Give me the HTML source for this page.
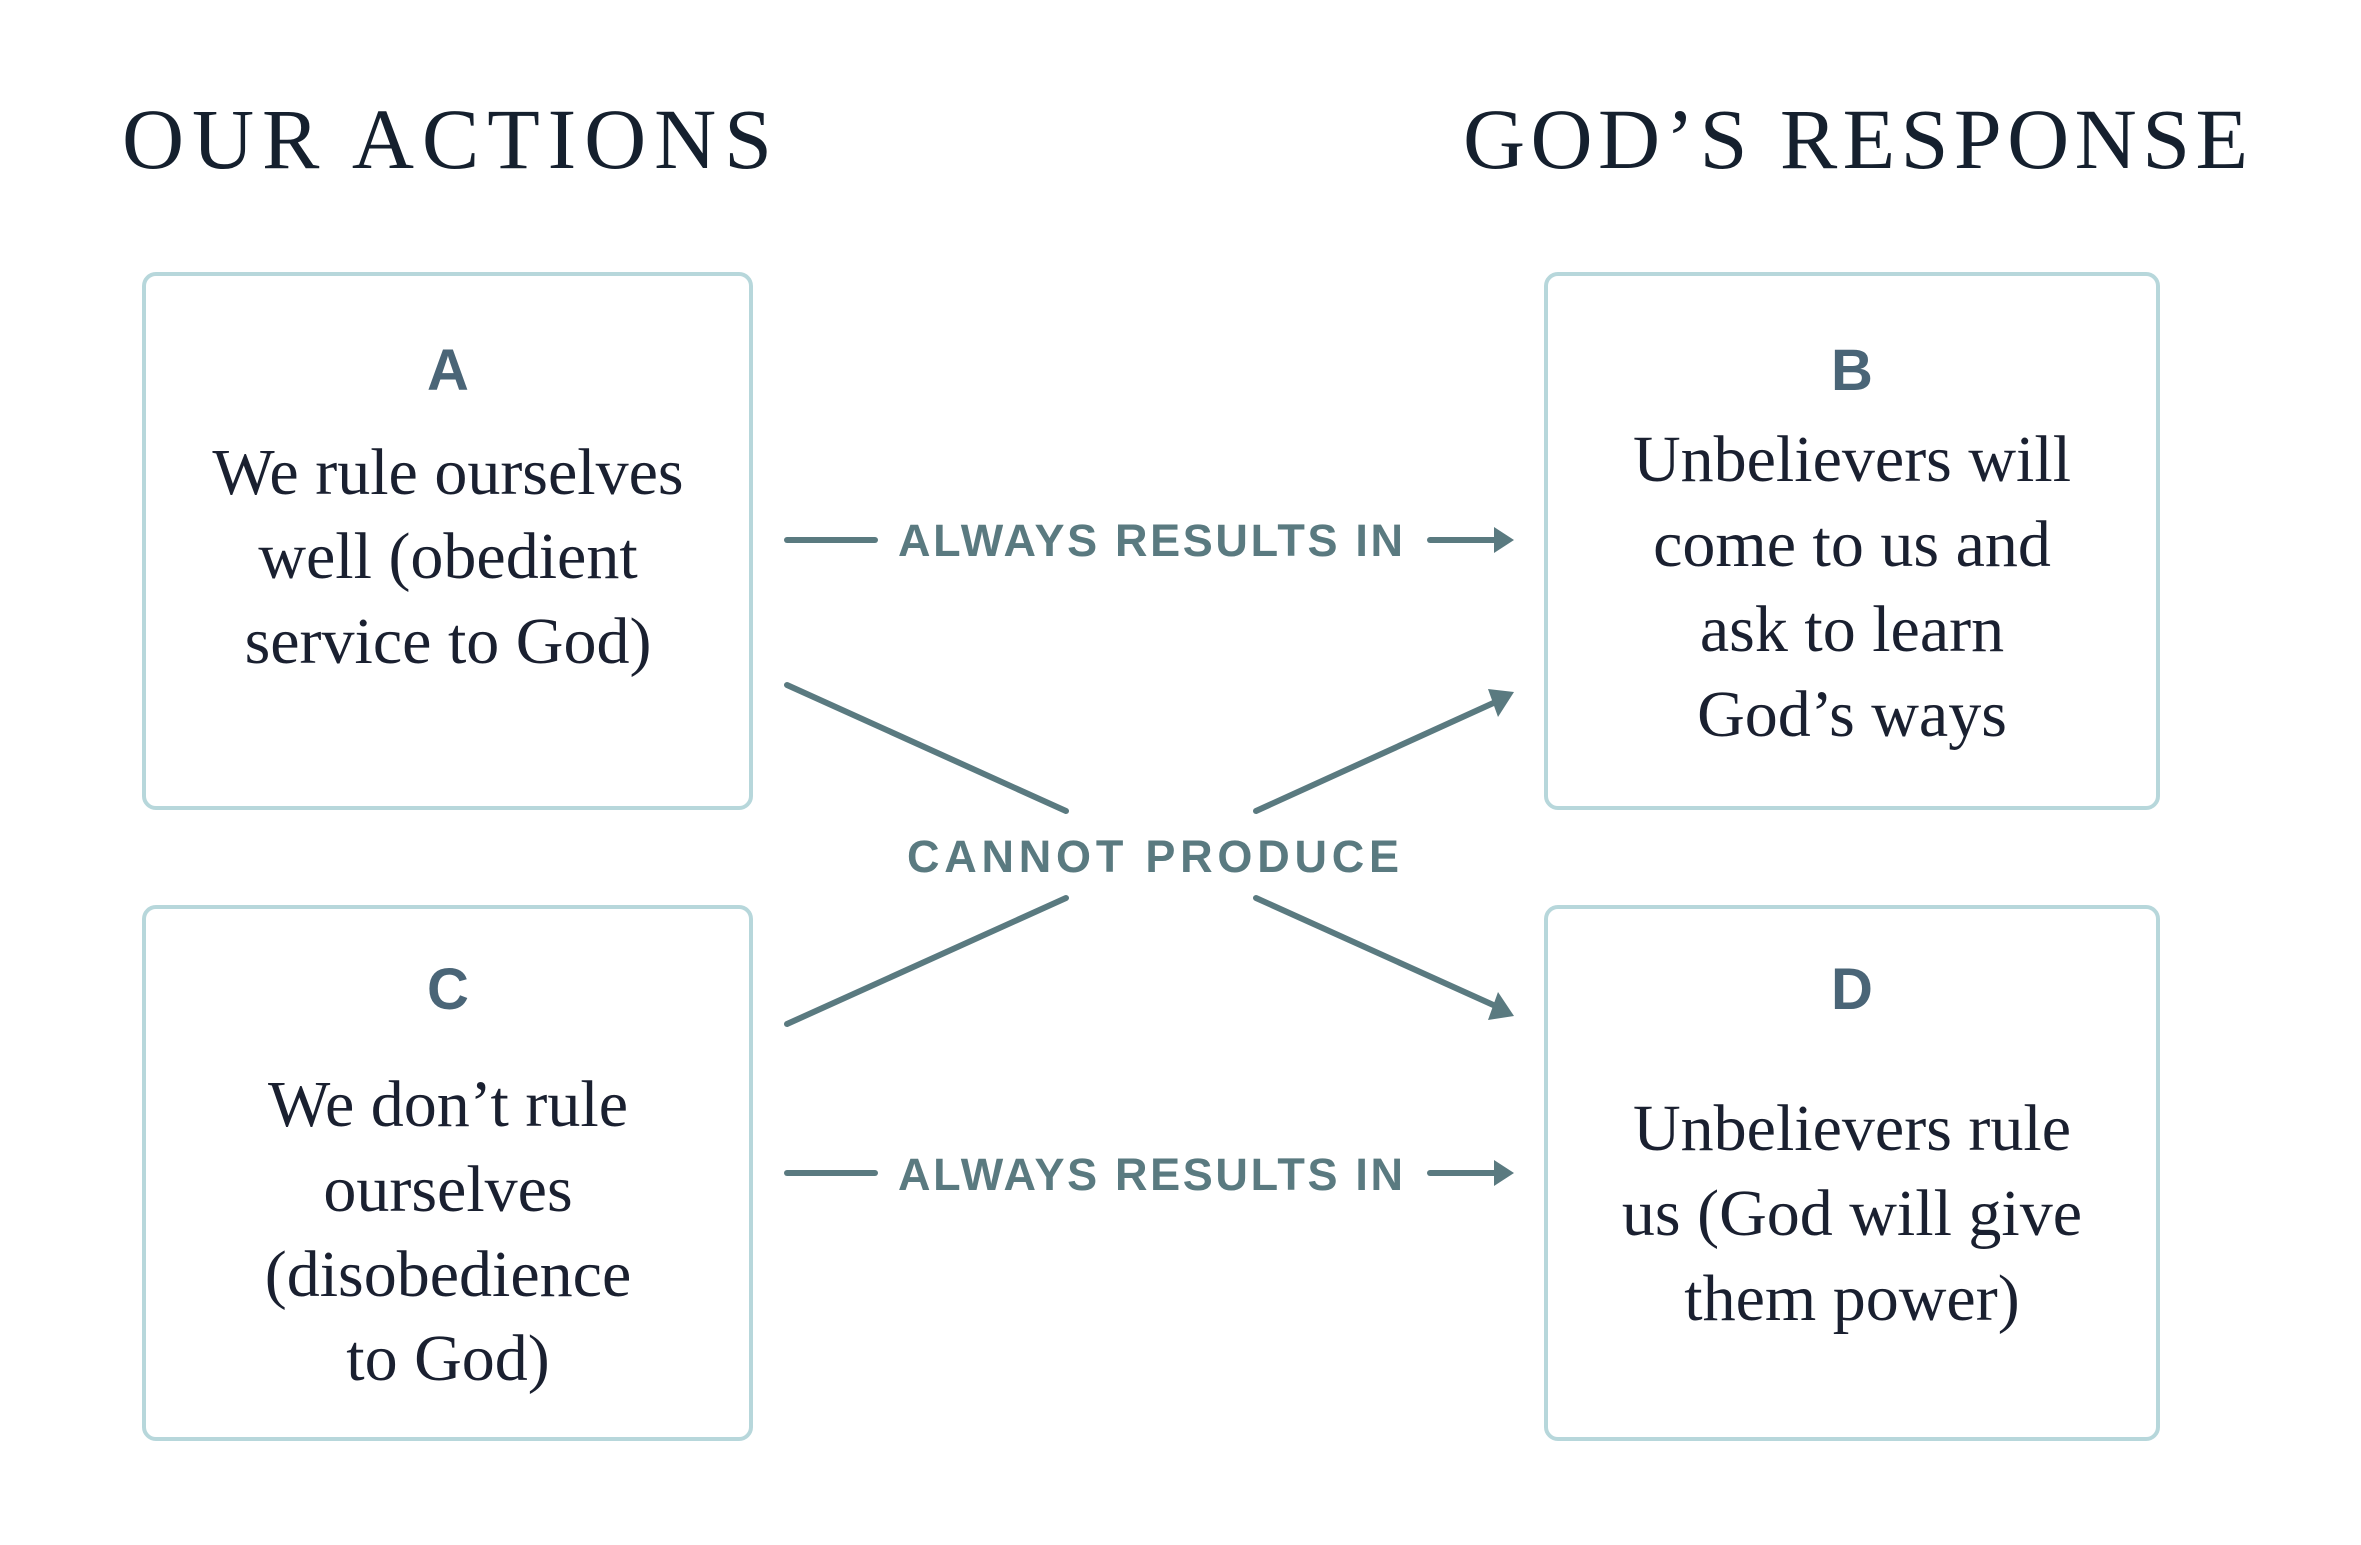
<!DOCTYPE html>
<html><head><meta charset="utf-8"><style>
html,body{margin:0;padding:0;background:#fff;}
svg{display:block;}
.t{font-family:"Liberation Serif",serif;fill:#15202e;}
.b{font-family:"Liberation Serif",serif;fill:#1a2030;font-size:66px;}
.l{font-family:"Liberation Sans",sans-serif;font-weight:bold;fill:#4a6577;font-size:58px;}
.c{font-family:"Liberation Sans",sans-serif;font-weight:bold;fill:#5a7a80;font-size:45px;}
</style></head><body>
<svg width="2361" height="1545" viewBox="0 0 2361 1545" xmlns="http://www.w3.org/2000/svg">
<text class="t" x="122" y="168" font-size="86" textLength="650" lengthAdjust="spacing">OUR ACTIONS</text>
<text class="t" x="1463" y="168" font-size="86" textLength="785" lengthAdjust="spacing">GOD’S RESPONSE</text>
<g fill="none" stroke="#b7d7db" stroke-width="4">
<rect x="144" y="274" width="607" height="534" rx="12"/>
<rect x="1546" y="274" width="612" height="534" rx="12"/>
<rect x="144" y="907" width="607" height="532" rx="12"/>
<rect x="1546" y="907" width="612" height="532" rx="12"/>
</g>
<g text-anchor="middle">
<text class="l" x="448" y="390">A</text>
<text class="b" x="448" y="494">We rule ourselves</text>
<text class="b" x="448" y="578">well (obedient</text>
<text class="b" x="448" y="663">service to God)</text>
<text class="l" x="1852" y="390">B</text>
<text class="b" x="1852" y="481">Unbelievers will</text>
<text class="b" x="1852" y="566">come to us and</text>
<text class="b" x="1852" y="651">ask to learn</text>
<text class="b" x="1852" y="736">God’s ways</text>
<text class="l" x="448" y="1009">C</text>
<text class="b" x="448" y="1126">We don’t rule</text>
<text class="b" x="448" y="1211">ourselves</text>
<text class="b" x="448" y="1296">(disobedience</text>
<text class="b" x="448" y="1380">to God)</text>
<text class="l" x="1852" y="1009">D</text>
<text class="b" x="1852" y="1150">Unbelievers rule</text>
<text class="b" x="1852" y="1235">us (God will give</text>
<text class="b" x="1852" y="1320">them power)</text>
</g>
<text class="c" x="898" y="556" textLength="505" lengthAdjust="spacing">ALWAYS RESULTS IN</text>
<text class="c" x="898" y="1190" textLength="505" lengthAdjust="spacing">ALWAYS RESULTS IN</text>
<text class="c" x="907" y="872" textLength="492" lengthAdjust="spacing">CANNOT PRODUCE</text>
<g stroke="#5a7a80" stroke-width="6" stroke-linecap="round" fill="none">
<line x1="787" y1="540" x2="875" y2="540"/>
<line x1="1430" y1="540" x2="1500" y2="540"/>
<line x1="787" y1="1173" x2="875" y2="1173"/>
<line x1="1430" y1="1173" x2="1500" y2="1173"/>
<line x1="787" y1="685" x2="1066" y2="811"/>
<line x1="1256" y1="811" x2="1500" y2="700"/>
<line x1="1066" y1="898" x2="787" y2="1024"/>
<line x1="1256" y1="898" x2="1500" y2="1008"/>
</g>
<g fill="#5a7a80">
<polygon points="1494,527 1514,540 1494,553"/>
<polygon points="1494,1160 1514,1173 1494,1186"/>
<polygon points="1514,692 1498,717 1488,689"/>
<polygon points="1514,1016 1488,1020 1498,992"/>
</g>
</svg>
</body></html>
